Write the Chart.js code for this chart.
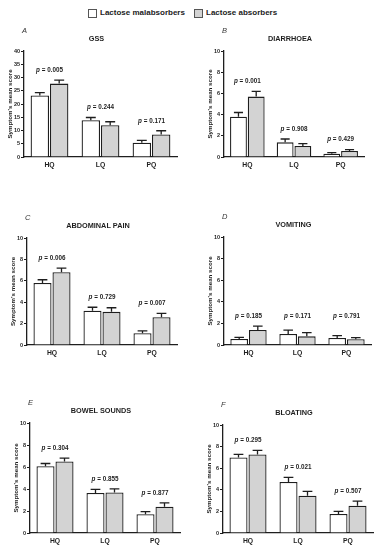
<!DOCTYPE html>
<html>
<head>
<meta charset="utf-8">
<script src="https://cdn.jsdelivr.net/npm/chart.js@4.4.1/dist/chart.umd.min.js"></script>
<style>
  body { margin: 0; background: #fff; width: 382px; height: 550px; position: relative; overflow: hidden;
         font-family: "Liberation Sans", Arial, sans-serif; }
  .legend { position: absolute; top: 8px; font-size: 8px; font-weight: bold; color: #222;
            display: flex; align-items: center; line-height: 10px; }
  .legend .box { display: inline-block; width: 7px; height: 7px; border: 1px solid #555; margin-right: 3px; }
  canvas { position: absolute; }
</style>
</head>
<body>
<div class="legend" style="left:88px"><span class="box" style="background:#fff"></span>Lactose malabsorbers</div>
<div class="legend" style="left:194px"><span class="box" style="background:#d3d3d3"></span>Lactose absorbers</div>
<script>
// data, one entry per panel (A..F)
const categories = ['HQ', 'LQ', 'PQ'];
const panelLetters = ['A', 'B', 'C', 'D', 'E', 'F'];
const panelTitles = ['GSS', 'DIARRHOEA', 'ABDOMINAL PAIN', 'VOMITING', 'BOWEL SOUNDS', 'BLOATING'];
const yMax = [40, 10, 10, 10, 10, 10];
const yStep = [5, 2, 2, 2, 2, 2];

const malabsorbers = [
    [23.2, 13.9, 5.4],
    [3.8, 1.38, 0.31],
    [5.8, 3.2, 1.1],
    [0.56, 1.02, 0.65],
    [6.07, 3.63, 1.7],
    [7.0, 4.72, 1.76]
];
const malabsorbersSem = [
    [1.1, 1.0, 0.9],
    [0.4, 0.32, 0.1],
    [0.3, 0.33, 0.22],
    [0.15, 0.35, 0.22],
    [0.25, 0.33, 0.25],
    [0.28, 0.43, 0.24]
];
const absorbers = [
    [27.7, 12.0, 8.5],
    [5.7, 1.04, 0.57],
    [6.8, 3.1, 2.6],
    [1.4, 0.8, 0.53],
    [6.5, 3.69, 2.38],
    [7.28, 3.46, 2.53]
];
const absorbersSem = [
    [1.3, 1.3, 1.4],
    [0.5, 0.22, 0.13],
    [0.38, 0.38, 0.35],
    [0.34, 0.35, 0.15],
    [0.3, 0.33, 0.36],
    [0.37, 0.4, 0.43]
];
const pValues = [
    ['0.005', '0.244', '0.171'],
    ['0.001', '0.908', '0.429'],
    ['0.006', '0.729', '0.007'],
    ['0.185', '0.171', '0.791'],
    ['0.304', '0.855', '0.877'],
    ['0.295', '0.021', '0.507']
];

// where each plot area sits on the page
const frames = [
    { col: 0,   left: 24,  right: 177, top: 51,  bottom: 157 },
    { col: 191, left: 224, right: 364, top: 51,  bottom: 157 },
    { col: 0,   left: 27,  right: 177, top: 238, bottom: 345 },
    { col: 191, left: 224, right: 371, top: 237, bottom: 345 },
    { col: 0,   left: 30,  right: 180, top: 423, bottom: 533 },
    { col: 191, left: 223, right: 373, top: 425, bottom: 533 }
];

const FONT = '"Liberation Sans", Arial, sans-serif';
const INK = '#1e1e1e';
const Y_AXIS_W = 17;
const X_AXIS_H = 14;
const TOP_SPACE = 32;
const BOTTOM_SPACE = 2;

const panelDecor = {
    id: 'panelDecor',
    afterDatasetsDraw(chart, args, opts) {
        const { ctx, chartArea, scales: { x, y } } = chart;
        ctx.save();
        // upper error whiskers
        ctx.strokeStyle = INK;
        ctx.lineWidth = 1.3;
        chart.data.datasets.forEach((ds, di) => {
            const meta = chart.getDatasetMeta(di);
            meta.data.forEach((bar, i) => {
                const top = y.getPixelForValue(ds.data[i] + ds.sem[i]);
                const half = bar.width * 0.27;
                ctx.beginPath();
                ctx.moveTo(bar.x, bar.y);
                ctx.lineTo(bar.x, top);
                ctx.moveTo(bar.x - half, top);
                ctx.lineTo(bar.x + half, top);
                ctx.stroke();
            });
        });

        // p values above each group
        const uppers = categories.map((c, i) => Math.max(
            ...chart.data.datasets.map(ds => ds.data[i] + ds.sem[i])));
        const highest = Math.max(...uppers);
        ctx.fillStyle = INK;
        ctx.textBaseline = 'middle';
        ctx.textAlign = 'left';
        categories.forEach((c, i) => {
            const v = opts.alignP ? highest : uppers[i];
            const py = y.getPixelForValue(v) - 10;
            const px = x.getPixelForValue(i);
            const rest = ' = ' + opts.p[i];
            ctx.font = 'bold italic 6.3px ' + FONT;
            const wp = ctx.measureText('p').width;
            ctx.font = 'bold 6.3px ' + FONT;
            const wr = ctx.measureText(rest).width;
            const sx = px - (wp + wr) / 2;
            ctx.font = 'bold italic 6.3px ' + FONT;
            ctx.fillText('p', sx, py);
            ctx.font = 'bold 6.3px ' + FONT;
            ctx.fillText(rest, sx + wp, py);
        });

        // panel letter and title
        ctx.textAlign = 'left';
        ctx.font = 'italic 7.5px ' + FONT;
        ctx.fillStyle = '#333';
        ctx.fillText(opts.letter, chartArea.left - 2, chartArea.top - 20);
        ctx.textAlign = 'center';
        ctx.font = 'bold 7.3px ' + FONT;
        ctx.fillStyle = INK;
        ctx.fillText(opts.title, (chartArea.left + chartArea.right) / 2 - 4, chartArea.top - 12);
        ctx.restore();
    }
};

function CreaPanel(k) {
    const f = frames[k];
    const canvas = document.createElement('canvas');
    const top = f.top - TOP_SPACE;
    const height = f.bottom + X_AXIS_H + BOTTOM_SPACE - top;
    canvas.width = 191;
    canvas.height = height;
    canvas.style.left = f.col + 'px';
    canvas.style.top = top + 'px';
    canvas.style.width = '191px';
    canvas.style.height = height + 'px';
    document.body.appendChild(canvas);

    return new Chart(canvas, {
        type: 'bar',
        data: {
            labels: categories,
            datasets: [
                {
                    label: 'Lactose malabsorbers',
                    data: malabsorbers[k],
                    sem: malabsorbersSem[k],
                    backgroundColor: '#ffffff',
                    borderColor: INK,
                    borderWidth: 1.3
                },
                {
                    label: 'Lactose absorbers',
                    data: absorbers[k],
                    sem: absorbersSem[k],
                    backgroundColor: '#d3d3d3',
                    borderColor: INK,
                    borderWidth: 1.3
                }
            ]
        },
        options: {
            responsive: false,
            animation: false,
            devicePixelRatio: 1,
            categoryPercentage: 0.76,
            barPercentage: 0.95,
            layout: {
                padding: {
                    top: TOP_SPACE,
                    bottom: BOTTOM_SPACE,
                    left: f.left - f.col - Y_AXIS_W,
                    right: f.col + 191 - f.right
                }
            },
            plugins: {
                legend: { display: false },
                tooltip: { enabled: false },
                panelDecor: {
                    letter: panelLetters[k],
                    title: panelTitles[k],
                    p: pValues[k],
                    alignP: k === 3
                }
            },
            scales: {
                x: {
                    grid: { display: false, drawTicks: false },
                    border: { display: true, color: INK, width: 1.3 },
                    ticks: {
                        color: INK,
                        padding: 4,
                        maxRotation: 0,
                        font: { size: 6.8, weight: 'bold', family: FONT }
                    },
                    afterFit: (s) => { s.height = X_AXIS_H; }
                },
                y: {
                    min: 0,
                    max: yMax[k],
                    ticks: {
                        stepSize: yStep[k],
                        color: INK,
                        padding: 1,
                        font: { size: 5.5, weight: 'bold', family: FONT }
                    },
                    grid: {
                        drawOnChartArea: false,
                        drawTicks: true,
                        tickLength: 3,
                        color: INK,
                        lineWidth: 1
                    },
                    border: { color: INK, width: 1.3 },
                    title: {
                        display: true,
                        text: "Symptom's mean score",
                        color: INK,
                        padding: 0,
                        font: { size: 6.2, weight: 'bold', family: FONT }
                    },
                    afterFit: (s) => { s.width = Y_AXIS_W; }
                }
            }
        },
        plugins: [panelDecor]
    });
}

for (let k = 0; k < 6; k++) {
    CreaPanel(k);
}
</script>
</body>
</html>
